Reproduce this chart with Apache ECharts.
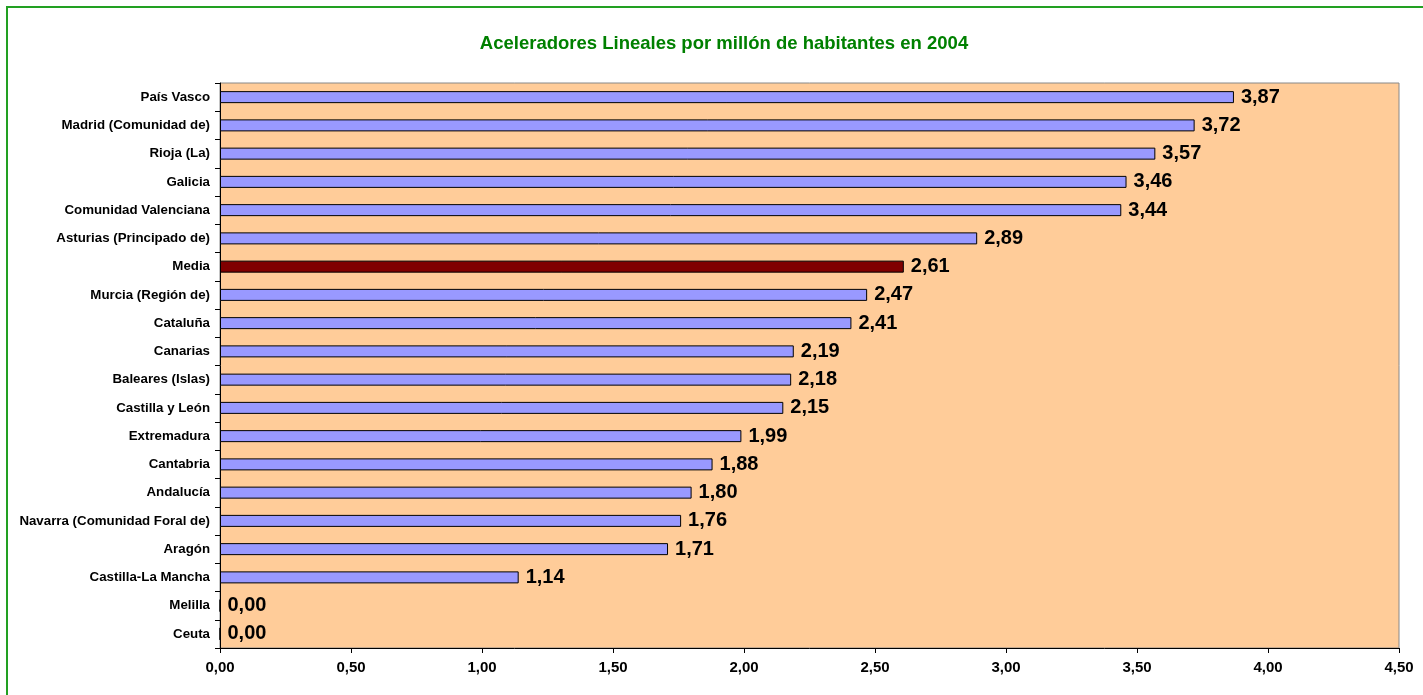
<!DOCTYPE html>
<html>
<head>
<meta charset="utf-8">
<script src="https://cdn.jsdelivr.net/npm/echarts@6/dist/echarts.min.js"></script>
<style>
  html, body { margin: 0; padding: 0; background: #fff; }
  #chart { width: 1423px; height: 695px; }
</style>
</head>
<body>
<div id="chart"></div>
<script>
// data (top to bottom)
const regions = [
  "País Vasco", "Madrid (Comunidad de)", "Rioja (La)", "Galicia",
  "Comunidad Valenciana", "Asturias (Principado de)", "Media",
  "Murcia (Región de)", "Cataluña", "Canarias", "Baleares (Islas)",
  "Castilla y León", "Extremadura", "Cantabria", "Andalucía",
  "Navarra (Comunidad Foral de)", "Aragón", "Castilla-La Mancha",
  "Melilla", "Ceuta"
];
const aceleradores = [
  3.87, 3.72, 3.57, 3.46, 3.44, 2.89, 2.61, 2.47, 2.41, 2.19, 2.18,
  2.15, 1.99, 1.88, 1.80, 1.76, 1.71, 1.14, 0.00, 0.00
];
const highlight = "Media";

const fmt = (v) => v.toFixed(2).replace(".", ",");

const chart = echarts.init(document.getElementById("chart"));

let barData = aceleradores.map((v, i) => {
  return regions[i] === highlight
    ? { value: v, itemStyle: { color: "#800000" } }
    : v;
});

let option = {
  animation: false,
  backgroundColor: "#fff",
  title: {
    text: "Aceleradores Lineales por millón de habitantes en 2004",
    left: 719,
    top: 29,
    textAlign: "center",
    textStyle: {
      color: "#008000",
      fontFamily: "Liberation Sans, Arial",
      fontWeight: "bold",
      fontSize: 18.5,
    },
  },
  graphic: [
    {
      type: "rect",
      shape: { x: 7, y: 7, width: 1440, height: 720 },
      style: { fill: null, stroke: "#22a022", lineWidth: 2 },
      silent: true,
    },
  ],
  grid: {
    left: 220,
    top: 83,
    right: 24,
    bottom: 47,
    show: true,
    backgroundColor: "#FFCC99",
    borderColor: "#888",
    borderWidth: 1,
  },
  xAxis: {
    type: "value",
    min: 0,
    max: 4.5,
    interval: 0.5,
    splitLine: { show: false },
    axisLine: { show: true, lineStyle: { color: "#000" } },
    axisTick: { show: true, length: 5, lineStyle: { color: "#000" } },
    axisLabel: {
      formatter: fmt,
      color: "#000",
      fontFamily: "Liberation Sans, Arial",
      fontWeight: "bold",
      fontSize: 15,
      margin: 12,
    },
  },
  yAxis: {
    type: "category",
    data: regions,
    inverse: true,
    axisLine: { show: true, lineStyle: { color: "#000" } },
    axisTick: { show: true, length: 5, lineStyle: { color: "#000" } },
    axisLabel: {
      color: "#000",
      fontFamily: "Liberation Sans, Arial",
      fontWeight: "bold",
      fontSize: 13.3,
      margin: 10,
    },
  },
  series: [
    {
      type: "bar",
      data: barData,
      barWidth: 12,
      itemStyle: { color: "#9999FF", borderColor: "#000", borderWidth: 1 },
      label: {
        show: true,
        position: "right",
        distance: 7,
        formatter: (p) => fmt(p.value),
        color: "#000",
        fontFamily: "Liberation Sans, Arial",
        fontWeight: "bold",
        fontSize: 20,
      },
    },
  ],
};

chart.setOption(option);
</script>
</body>
</html>
